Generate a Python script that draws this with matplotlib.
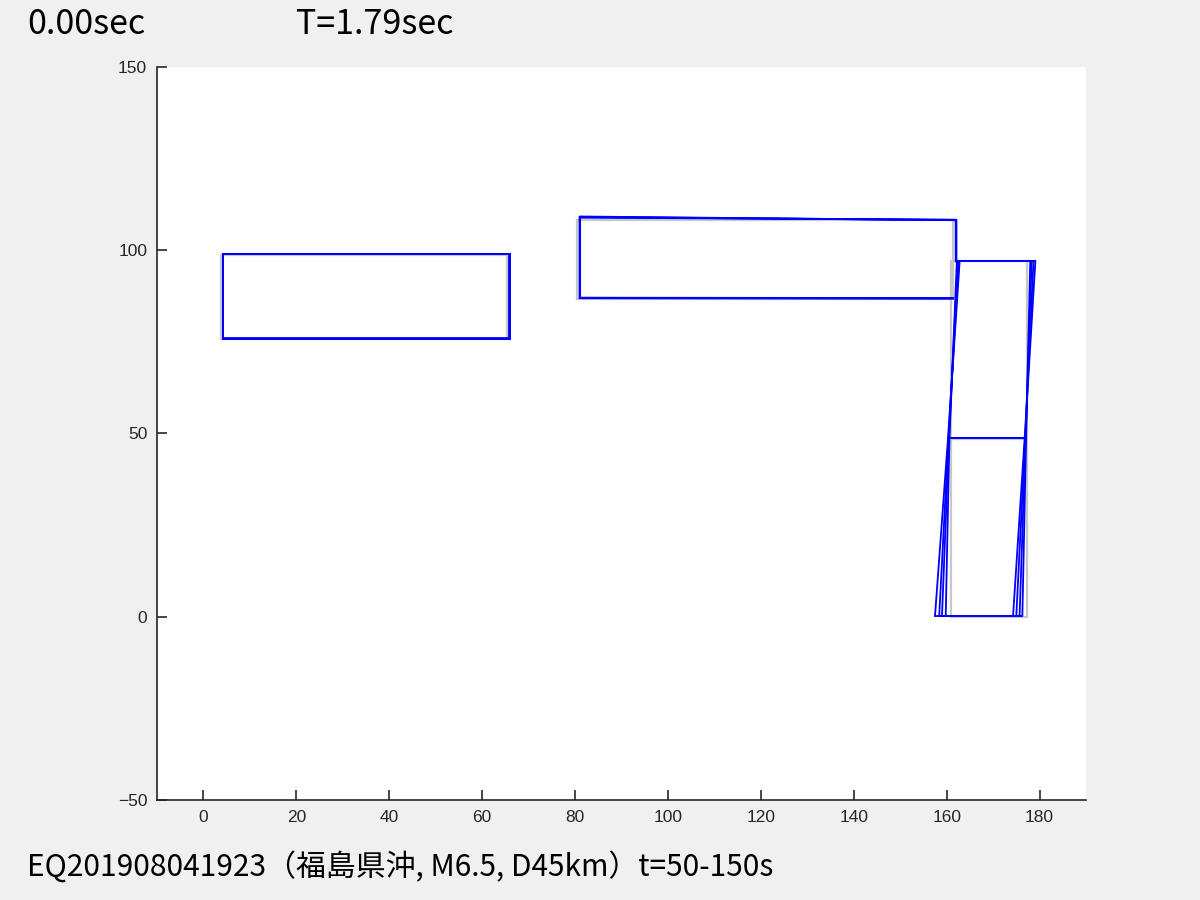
import matplotlib
matplotlib.use("Agg")
import matplotlib.pyplot as plt
import numpy as np

# ---------------- data ----------------
title_left = "0.00sec"
title_right = "T=1.79sec"
footer = "EQ201908041923（福島県沖, M6.5, D45km）t=50-150s"

x_ticks = [0, 20, 40, 60, 80, 100, 120, 140, 160, 180]
y_ticks = [-50, 0, 50, 100, 150]
x_lim = [-10, 190]
y_lim = [-50, 150]

# original (undeformed) geometry
rect1_x = [3.7, 65.4]
rect1_y = [75.7, 98.7]
rect2_x = [80.5, 161.3]
rect2_y = [86.6, 108.3]
tower_x = [160.9, 177.4]
tower_levels = [0.0, 48.5, 97.0]

# deformed frames (blue), displacements
rect1_dx = [0.55, 0.5, 0.45, 0.5]
rect1_dy = [0.25, 0.2, 0.15, 0.2]
# rect2 corner displacements: top-left, top-right, bottom-left, bottom-right
rect2_tl_dx = [0.6, 0.55, 0.5, 0.5]
rect2_tl_dy = [0.9, 0.8, 0.7, 0.6]
rect2_tr_dx = [0.8, 0.75, 0.7, 0.65]
rect2_tr_dy = [-0.1, -0.1, 0.0, 0.0]
rect2_bl_dx = [0.6, 0.55, 0.5, 0.5]
rect2_bl_dy = [0.45, 0.4, 0.35, 0.3]
rect2_br_dx = [0.1, 0.0, 0.0, 0.0]
rect2_br_dy = [0.35, 0.3, 0.25, 0.2]
# tower node x-displacements per level (bottom, middle, top), left/right
tower_left_dx = [[-3.4, -0.6, 1.9], [-2.5, -0.5, 1.7], [-1.9, -0.4, 1.5], [-1.1, -0.3, 1.3]]
tower_right_dx = [[-3.1, -0.6, 1.7], [-2.4, -0.5, 1.3], [-1.7, -0.4, 0.9], [-1.1, -0.3, 0.6]]
tower_dy = [0.3, 0.3, 0.0]

# ---------------- figure ----------------
BG = "#f0f0f0"
GRAY = "#c8c8c8"
BLUE = "#0000ff"
TXT = "#262626"

fig = plt.figure(figsize=(12, 9), dpi=100, facecolor=BG)
ax = fig.add_axes([0.1308, 0.1111, 0.7742, 0.8145])
ax.set_facecolor("white")

lw_g = 1.6
lw_b = 1.3


def draw_rect(xl, xr, yb, yt, color, lw, z):
    ax.plot([xl, xr, xr, xl, xl], [yt, yt, yb, yb, yt], color=color, lw=lw,
            zorder=z, solid_joinstyle="miter")


def draw_tower(lx, rx, ys, color, lw, z):
    ax.plot(lx, ys, color=color, lw=lw, zorder=z)
    ax.plot(rx, ys, color=color, lw=lw, zorder=z)
    for i in range(len(ys)):
        ax.plot([lx[i], rx[i]], [ys[i], ys[i]], color=color, lw=lw, zorder=z)


# gray original
draw_rect(rect1_x[0], rect1_x[1], rect1_y[0], rect1_y[1], GRAY, lw_g, 2)
draw_rect(rect2_x[0], rect2_x[1], rect2_y[0], rect2_y[1], GRAY, lw_g, 2)
draw_tower([tower_x[0]] * 3, [tower_x[1]] * 3, tower_levels, GRAY, lw_g, 2)

# blue deformed frames
for k in range(len(rect1_dx)):
    draw_rect(rect1_x[0] + rect1_dx[k], rect1_x[1] + rect1_dx[k],
              rect1_y[0] + rect1_dy[k], rect1_y[1] + rect1_dy[k], BLUE, lw_b, 3)
    tl = (rect2_x[0] + rect2_tl_dx[k], rect2_y[1] + rect2_tl_dy[k])
    tr = (rect2_x[1] + rect2_tr_dx[k], rect2_y[1] + rect2_tr_dy[k])
    br = (rect2_x[1] + rect2_br_dx[k], rect2_y[0] + rect2_br_dy[k])
    bl = (rect2_x[0] + rect2_bl_dx[k], rect2_y[0] + rect2_bl_dy[k])
    ax.plot([br[0], bl[0], tl[0], tr[0], tr[0]],
            [br[1], bl[1], tl[1], tr[1], tower_levels[2]],
            color=BLUE, lw=lw_b, zorder=3, solid_joinstyle="miter")
    lx = [tower_x[0] + d for d in tower_left_dx[k]]
    rx = [tower_x[1] + d for d in tower_right_dx[k]]
    ys = [tower_levels[i] + tower_dy[i] for i in range(3)]
    draw_tower(lx, rx, ys, BLUE, lw_b, 3)

ax.set_xlim(x_lim)
ax.set_ylim(y_lim)
ax.set_xticks(x_ticks)
ax.set_yticks(y_ticks)
for s in ["top", "right"]:
    ax.spines[s].set_visible(False)
for s in ["left", "bottom"]:
    ax.spines[s].set_color(TXT)
    ax.spines[s].set_linewidth(1.2)
ax.tick_params(direction="in", length=7, width=1.2, color=TXT, labelcolor=TXT,
               labelsize=12.5)
ax.tick_params(axis="y", pad=7)
ax.tick_params(axis="x", pad=7.5)
for lab in ax.get_xticklabels() + ax.get_yticklabels():
    lab.set_family("Liberation Sans")

cjk = ["Noto Sans CJK JP", "DejaVu Sans"]
fig.text(27 / 1200, 1 - 24 / 900, title_left, family=cjk, fontsize=24.5,
         va="center", ha="left", color="black")
fig.text(296 / 1200, 1 - 24 / 900, title_right, family=cjk, fontsize=24.5,
         va="center", ha="left", color="black")
fig.text(27 / 1200, 1 - 867 / 900, footer, family=cjk, fontsize=21.5,
         va="center", ha="left", color="black")

fig.savefig("out.png", dpi=100, facecolor=BG)
